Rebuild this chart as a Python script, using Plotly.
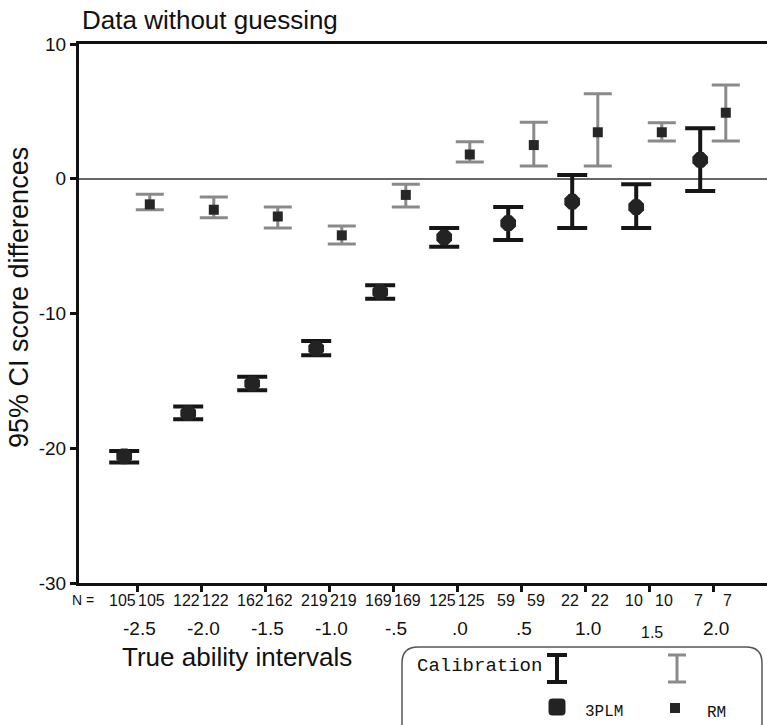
import plotly.graph_objects as go

# ---- data ----
interval_labels = ["-2.5", "-2.0", "-1.5", "-1.0", "-.5", ".0", ".5", "1.0", "1.5", "2.0"]
n_counts = [105, 122, 162, 219, 169, 125, 59, 22, 10, 7]
plm_mean = [-20.6, -17.4, -15.2, -12.6, -8.4, -4.35, -3.3, -1.7, -2.1, 1.4]
plm_upper = [-20.2, -16.9, -14.7, -12.05, -7.9, -3.65, -2.1, 0.28, -0.4, 3.75]
plm_lower = [-21.05, -17.85, -15.7, -13.1, -8.9, -5.05, -4.55, -3.65, -3.65, -0.9]
rm_mean = [-1.9, -2.3, -2.8, -4.2, -1.2, 1.8, 2.5, 3.45, 3.45, 4.9]
rm_upper = [-1.15, -1.35, -2.1, -3.5, -0.4, 2.75, 4.2, 6.3, 4.15, 6.95]
rm_lower = [-2.3, -2.9, -3.65, -4.85, -2.1, 1.25, 0.95, 0.95, 2.8, 2.8]
y_ticks = [10, 0, -10, -20, -30]
y_tick_text = ["10", "0", "-10", "-20", "-30"]

W, H = 767, 725
L, R, T, B = 79, 0, 44, 142
PW, PH = W - L - R, H - T - B

def px(x):
    return (x - L) / PW

def py(y):
    return (H - B - y) / PH

idx = list(range(len(interval_labels)))
off = 0.2
x_plm = [i - off for i in idx]
x_rm = [i + off for i in idx]

BLACK = "#161616"
GREY = "#8a8a8a"

fig = go.Figure()
fig.add_trace(go.Scatter(
    x=x_plm, y=plm_mean, mode="markers",
    marker=dict(symbol="octagon", size=17, color="#232323"),
    error_y=dict(type="data", symmetric=False,
                 array=[u - m for u, m in zip(plm_upper, plm_mean)],
                 arrayminus=[m - l for m, l in zip(plm_mean, plm_lower)],
                 color=BLACK, thickness=4, width=15),
    showlegend=False, cliponaxis=False))
fig.add_trace(go.Scatter(
    x=x_rm, y=rm_mean, mode="markers",
    marker=dict(symbol="square", size=10, color="#262626"),
    error_y=dict(type="data", symmetric=False,
                 array=[u - m for u, m in zip(rm_upper, rm_mean)],
                 arrayminus=[m - l for m, l in zip(rm_mean, rm_lower)],
                 color=GREY, thickness=3, width=14),
    showlegend=False, cliponaxis=False))

font_main = "Liberation Sans, Arial, Helvetica, sans-serif"
font_mono = "Liberation Mono, Courier New, monospace"

def ann(x, y, text, size, family=font_main, xref="paper", xanchor="center", angle=0):
    return dict(x=x, y=y, xref=xref, yref="paper", text=text, showarrow=False,
                xanchor=xanchor, yanchor="middle", textangle=angle,
                font=dict(size=size, family=family, color="#111"))

annotations = []
annotations.append(ann(px(83), py(600), "N =", 14))
for i, n in enumerate(n_counts):
    annotations.append(ann(x_plm[i] - 0.03, py(600), str(n), 16, xref="x"))
    annotations.append(ann(x_rm[i] + 0.03, py(600), str(n), 16, xref="x"))
for i, lab in enumerate(interval_labels):
    small = lab == "1.5"
    annotations.append(ann(i + 0.04, py(632 if small else 628), lab, 16 if small else 19, xref="x"))
annotations.append(ann(px(237), py(657), "True ability intervals", 26))
annotations.append(ann(px(80), py(20), "Data without guessing", 26, xanchor="left"))
annotations.append(ann(px(19), py(298), "95% CI score differences", 27, angle=-90))
annotations.append(ann(px(415), py(666), "Calibration", 19, family=font_mono, xanchor="left"))
annotations.append(ann(px(583), py(712), "3PLM", 16, family=font_mono, xanchor="left"))
annotations.append(ann(px(705), py(713), "RM", 16, family=font_mono, xanchor="left"))

shapes = []
x0, x1, y0, y1 = 402, 762, 647, 740
r = 16
path = (f"M {px(x0)},{py(y1)} L {px(x0)},{py(y0 + r)} Q {px(x0)},{py(y0)} {px(x0 + r)},{py(y0)} "
        f"L {px(x1 - r)},{py(y0)} Q {px(x1)},{py(y0)} {px(x1)},{py(y0 + r)} L {px(x1)},{py(y1)}")
shapes.append(dict(type="path", path=path, xref="paper", yref="paper",
                   line=dict(color="#555", width=1.5)))
for cx, col, lw, hw in ((557, BLACK, 4, 10), (677, GREY, 3, 9)):
    shapes.append(dict(type="line", xref="paper", yref="paper", x0=px(cx), x1=px(cx),
                       y0=py(655), y1=py(682), line=dict(color=col, width=lw)))
    for yy in (655, 682):
        shapes.append(dict(type="line", xref="paper", yref="paper", x0=px(cx - hw), x1=px(cx + hw),
                           y0=py(yy), y1=py(yy), line=dict(color=col, width=lw)))
# rounded-square marker for 3PLM
cx, cy, s, rr = 557, 707, 8.5, 4
mpath = (f"M {px(cx - s + rr)},{py(cy - s)} L {px(cx + s - rr)},{py(cy - s)} "
         f"Q {px(cx + s)},{py(cy - s)} {px(cx + s)},{py(cy - s + rr)} "
         f"L {px(cx + s)},{py(cy + s - rr)} Q {px(cx + s)},{py(cy + s)} {px(cx + s - rr)},{py(cy + s)} "
         f"L {px(cx - s + rr)},{py(cy + s)} Q {px(cx - s)},{py(cy + s)} {px(cx - s)},{py(cy + s - rr)} "
         f"L {px(cx - s)},{py(cy - s + rr)} Q {px(cx - s)},{py(cy - s)} {px(cx - s + rr)},{py(cy - s)} Z")
shapes.append(dict(type="path", path=mpath, xref="paper", yref="paper",
                   fillcolor="#232323", line=dict(width=0)))
shapes.append(dict(type="rect", xref="paper", yref="paper", x0=px(670), x1=px(680),
                   y0=py(703), y1=py(713), fillcolor="#262626", line=dict(width=0)))

fig.update_layout(
    width=W, height=H,
    margin=dict(l=L, r=R, t=T, b=B),
    paper_bgcolor="white", plot_bgcolor="white",
    annotations=annotations, shapes=shapes,
    font=dict(family=font_main, color="#111"),
    xaxis=dict(range=[(L - 137) / 64, (W - 137) / 64], tickvals=idx,
               showticklabels=False, ticks="outside", ticklen=6, tickwidth=2.5, tickcolor="#111",
               showline=True, linecolor="#111", linewidth=3, mirror=True,
               showgrid=False, zeroline=False),
    yaxis=dict(range=[-30, 10], tickvals=y_ticks, ticktext=y_tick_text, ticks="outside",
               ticklen=6, tickwidth=2.5, tickcolor="#111", showline=True, linecolor="#111",
               linewidth=3, showgrid=False, zeroline=True, zerolinecolor="#666",
               zerolinewidth=1.5, tickfont=dict(size=19, family=font_main, color="#111")),
)

fig.write_html("out.html")
